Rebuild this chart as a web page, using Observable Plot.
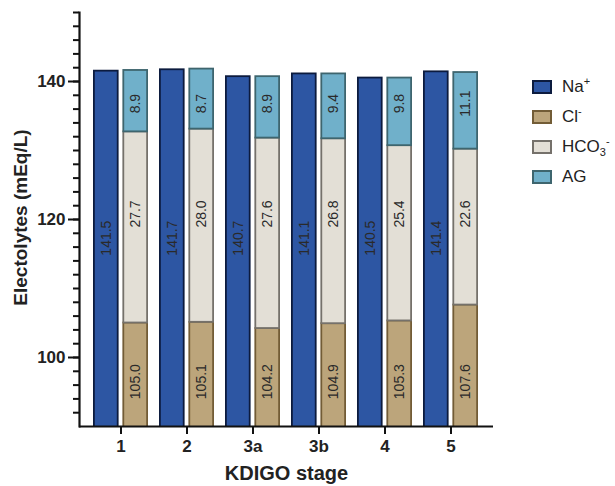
<!DOCTYPE html>
<html><head><meta charset="utf-8">
<script src="https://cdn.jsdelivr.net/npm/d3@7"></script>
<script src="https://cdn.jsdelivr.net/npm/@observablehq/plot@0.6"></script>
<style>
html,body{margin:0;padding:0;background:#fff}
body{width:615px;height:486px;overflow:hidden;position:relative;font-family:"Liberation Sans",Arial,Helvetica,sans-serif;color:#222}
#chart{position:absolute;left:0;top:0}
#legend{position:absolute;left:532px;top:80px;width:120px}
.item{display:flex;align-items:center;height:14px;margin-bottom:16px;white-space:nowrap;font-size:17px}
.box{width:16px;height:10px;border:2px solid #000;margin-right:10px;flex:none}
.item sup,.item sub{font-size:11px;line-height:0}
</style></head><body>
<div id="chart"></div>
<div id="legend"></div>
<script>
const stages = ["1", "2", "3a", "3b", "4", "5"];
const sodium = [141.5, 141.7, 140.7, 141.1, 140.5, 141.4];
const chloride = [105.0, 105.1, 104.2, 104.9, 105.3, 107.6];
const bicarbonate = [27.7, 28.0, 27.6, 26.8, 25.4, 22.6];
const anionGap = [8.9, 8.7, 8.9, 9.4, 9.8, 11.1];
const seriesKeys = ["Na+", "Cl-", "HCO3-", "AG"];
const seriesLabels = ["Na<sup>+</sup>", "Cl<sup>-</sup>", "HCO<sub>3</sub><sup>-</sup>", "AG"];
const yMajorTicks = [100, 120, 140];
const yMinorTicks = d3.range(92, 151, 2);

const fills = {"Na+": "#2d56a3", "Cl-": "#bca57b", "HCO3-": "#e3dfd6", "AG": "#70b0ca"};
const strokes = {"Na+": "#0c1b3e", "Cl-": "#725c36", "HCO3-": "#75716b", "AG": "#3e656e"};
const labelAt = {"Na+": 117.3, "Cl-": 96.5, "HCO3-": 120.8, "AG": 136.8};

const naRows = stages.map((s, i) => ({stage: s, series: "Na+", value: sodium[i]}));
const anionRows = [];
stages.forEach((s, i) => {
  anionRows.push({stage: s, series: "Cl-", value: chloride[i]});
  anionRows.push({stage: s, series: "HCO3-", value: bicarbonate[i]});
  anionRows.push({stage: s, series: "AG", value: anionGap[i]});
});
const anionLabels = anionRows.map(d => ({...d, ly: labelAt[d.series]}));
const naLabels = naRows.map(d => ({...d, ly: labelAt[d.series]}));

const fmt = d3.format(".1f");
const txt = "#222";

const chart = Plot.plot({
  width: 615,
  height: 486,
  marginLeft: 79,
  marginRight: 122,
  marginTop: 12,
  marginBottom: 60,
  style: {fontFamily: '"Liberation Sans", Arial, Helvetica, sans-serif', background: "#fff", overflow: "visible"},
  x: {type: "band", domain: stages, paddingInner: 0.166, paddingOuter: 0.2, axis: null},
  y: {domain: [90, 150], axis: null},
  color: {type: "identity"},
  marks: [
    Plot.barY(naRows, {x: "stage", y: "value", fill: d => fills[d.series], stroke: d => strokes[d.series], strokeWidth: 1.8, insetLeft: 0.9, insetRight: 30.3, clip: true}),
    Plot.barY(anionRows, Plot.stackY({x: "stage", y: "value", z: "series", fill: d => fills[d.series], stroke: d => strokes[d.series], strokeWidth: 1.8, insetLeft: 30.3, insetRight: 0.9, clip: true})),
    Plot.text(naLabels, {x: "stage", y: "ly", text: d => fmt(d.value), rotate: -90, dx: -14.7, fontSize: 14, fill: "#2a2a2a"}),
    Plot.text(anionLabels, {x: "stage", y: "ly", text: d => fmt(d.value), rotate: -90, dx: 14.7, fontSize: 14, fill: "#2a2a2a"}),
    Plot.axisY(yMinorTicks, {tickSize: 6, tickFormat: () => "", strokeWidth: 2, stroke: "#111", label: null}),
    Plot.axisY(yMajorTicks, {tickSize: 11, tickPadding: 3, strokeWidth: 2, stroke: "#111", fill: txt, fontSize: 17, fontWeight: "bold", label: null}),
    Plot.axisX({tickSize: 8, tickPadding: 5, strokeWidth: 2, stroke: "#111", fill: txt, fontSize: 17, fontWeight: "bold", label: null}),
    Plot.frame({anchor: "left", strokeWidth: 2.2, stroke: "#111"}),
    Plot.ruleY([90], {strokeWidth: 2.2, stroke: "#111"}),
    Plot.text(["Electolytes (mEq/L)"], {frameAnchor: "left", textAnchor: "middle", lineAnchor: "middle", rotate: -90, dx: -59, dy: -2, fontSize: 19, fontWeight: "bold", fill: txt}),
    Plot.text(["KDIGO stage"], {frameAnchor: "bottom", textAnchor: "middle", lineAnchor: "middle", dy: 47, fontSize: 20, fontWeight: "bold", fill: txt})
  ]
});
document.getElementById("chart").appendChild(chart);

const legend = document.getElementById("legend");
seriesKeys.forEach((k, i) => {
  const item = document.createElement("div");
  item.className = "item";
  item.innerHTML = `<span class="box" style="background:${fills[k]};border-color:${strokes[k]}"></span><span>${seriesLabels[i]}</span>`;
  legend.appendChild(item);
});
</script>
</body></html>
